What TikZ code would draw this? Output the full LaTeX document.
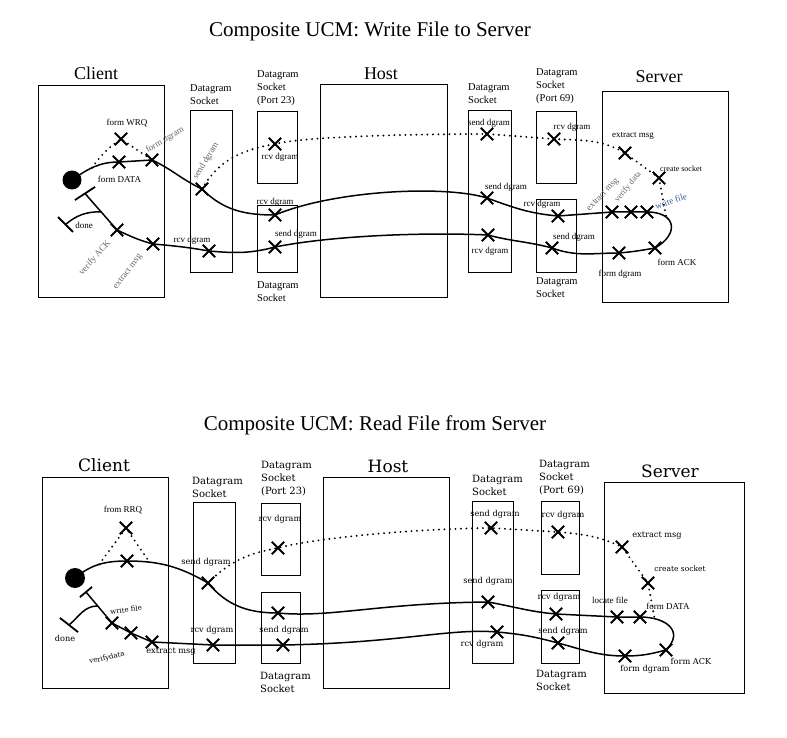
\documentclass[tikz,border=0pt]{standalone}
\usepackage{fontspec}
\setmainfont{Liberation Serif}
\newfontfamily\oldmac{DejaVu Serif}
\usetikzlibrary{shapes.misc}
\usetikzlibrary{positioning}
\definecolor{notegray}{RGB}{100,100,112}
\definecolor{noteblue}{RGB}{60,90,150}
\tikzstyle{ucmbox} = [rectangle, draw=black, line width=1.4pt, anchor=north west, inner sep=0]
\tikzstyle{resp} = [cross out, draw=black, line width=1.8pt, minimum size=10.5pt, inner sep=0]
\tikzstyle{startpt} = [circle, fill=black, minimum size=19pt, inner sep=0]
\tikzstyle{endbar} = [rectangle, fill=black, minimum height=1.8pt, inner sep=0]
\tikzstyle{ucmpath} = [line width=1.5pt, line join=round]
\tikzstyle{dotpath} = [line width=2.1pt, line cap=round, dash pattern=on 0pt off 5.5pt]
\tikzstyle{heading} = [font=\fontsize{21}{24}\selectfont, inner sep=0]
\tikzstyle{compname} = [font=\fontsize{18}{20}\selectfont, inner sep=0]
\tikzstyle{socklbl} = [font=\fontsize{10.5}{13}\selectfont, align=left, anchor=west, inner sep=0]
\tikzstyle{resplbl} = [font=\fontsize{9}{10}\selectfont, inner sep=0]
\tikzstyle{notelbl} = [font=\fontsize{9}{10}\selectfont, inner sep=0, text=notegray]
\tikzstyle{oldcomp} = [font=\oldmac\fontsize{17}{19}\selectfont, inner sep=0]
\tikzstyle{oldsock} = [font=\oldmac\fontsize{10}{13}\selectfont, align=left, anchor=west, inner sep=0]
\tikzstyle{oldlbl} = [font=\oldmac\fontsize{8.2}{9}\selectfont, inner sep=0]

\begin{document}
\begin{tikzpicture}[x=1pt,y=1pt]
\useasboundingbox (0,0) rectangle (787,-738);

\node[heading] (t-write) at (370,-31) {Composite UCM: Write File to Server};
\node[heading] (t-read) at (375,-425) {Composite UCM: Read File from Server};

%% write file to server
\node[ucmbox, minimum width=126pt, minimum height=212pt] (client-w) at (38,-85) {};
\node[ucmbox, minimum width=42pt, minimum height=162pt] (sock1-w) at (190,-110) {};
\node[ucmbox, minimum width=40pt, minimum height=72pt] (port23-w) at (257,-111) {};
\node[ucmbox, minimum width=40pt, minimum height=67pt] (sock2-w) at (257,-205) {};
\node[ucmbox, minimum width=127pt, minimum height=213pt] (host-w) at (320,-84) {};
\node[ucmbox, minimum width=43pt, minimum height=162pt] (sock3-w) at (468,-110) {};
\node[ucmbox, minimum width=40pt, minimum height=72pt] (port69-w) at (536,-111) {};
\node[ucmbox, minimum width=40pt, minimum height=73pt] (sock4-w) at (536,-199) {};
\node[ucmbox, minimum width=126pt, minimum height=211pt] (server-w) at (602,-91) {};

\node[compname] (client-w-l) at (96,-73) {Client};
\node[compname] (host-w-l) at (381,-74) {Host};
\node[compname] (server-w-l) at (659,-77) {Server};
\node[socklbl] (sock1-w-l) at (190,-94.5) {Datagram\\Socket};
\node[socklbl] (port23-w-l) at (257,-88) {Datagram\\Socket\\(Port 23)};
\node[socklbl] (sock2-w-l) at (257,-291.5) {Datagram\\Socket};
\node[socklbl] (sock3-w-l) at (468,-94) {Datagram\\Socket};
\node[socklbl] (port69-w-l) at (536,-86.5) {Datagram\\Socket\\(Port 69)};
\node[socklbl] (sock4-w-l) at (536,-288) {Datagram\\Socket};

\node[startpt] (w-start) at (72,-180) {};
\node[endbar, minimum width=24pt, rotate=33] (w-bar) at (85,-193.5) {};
\node[endbar, minimum width=21pt, rotate=-45] (w-done) at (65.5,-224.5) {};
\node[resp] (w-wrq) at (121,-139) {};
\node[resp] (w-fdata) at (119,-162) {};
\node[resp] (w-fdgram) at (152,-160) {};
\node[resp] (w-send1) at (202,-189) {};
\node[resp] (w-rcv23) at (275,-144) {};
\node[resp] (w-rcv2) at (275,-215) {};
\node[resp] (w-send2) at (275,-247) {};
\node[resp] (w-rcv1) at (209,-251) {};
\node[resp] (w-extract) at (153,-244) {};
\node[resp] (w-verify) at (117,-230) {};
\node[resp] (w-send3) at (487,-134) {};
\node[resp] (w-rcv69) at (554,-139) {};
\node[resp] (w-send4) at (487,-198) {};
\node[resp] (w-rcv4) at (558,-216) {};
\node[resp] (w-rcv3) at (488,-235) {};
\node[resp] (w-send5) at (552,-248) {};
\node[resp] (w-sxmsg) at (625,-153) {};
\node[resp] (w-socket) at (659,-178) {};
\node[resp] (w-sxmsg2) at (612,-212) {};
\node[resp] (w-vdata) at (631,-212) {};
\node[resp] (w-wfile) at (647,-212) {};
\node[resp] (w-fack) at (655,-248) {};
\node[resp] (w-sfdgram) at (619,-253) {};

\node[resplbl] (w-wrq-l) at (127,-123) {form WRQ};
\node[resplbl] (w-fdata-l) at (119.5,-179) {form DATA};
\node[notelbl, rotate=31] (w-fdgram-l) at (165,-140) {form dgram};
\node[notelbl, rotate=59] (w-send1-l) at (206,-161) {send dgram};
\node[resplbl] (w-rcv23-l) at (280,-157) {rcv dgram};
\node[resplbl] (w-rcv2-l) at (275,-202) {rcv dgram};
\node[resplbl] (w-send2-l) at (296,-234) {send dgram};
\node[resplbl] (w-rcv1-l) at (192,-240) {rcv dgram};
\node[notelbl, rotate=53] (w-extract-l) at (128,-272) {extract msg};
\node[notelbl, rotate=48] (w-verify-l) at (95,-258) {verify ACK};
\node[resplbl] (w-done-l) at (84,-225) {done};
\node[resplbl] (w-send3-l) at (489,-123) {send dgram};
\node[resplbl] (w-rcv69-l) at (572,-127) {rcv dgram};
\node[resplbl] (w-send4-l) at (506,-187) {send dgram};
\node[resplbl] (w-rcv4-l) at (542,-204) {rcv dgram};
\node[resplbl] (w-rcv3-l) at (490,-251) {rcv dgram};
\node[resplbl] (w-send5-l) at (574,-237) {send dgram};
\node[resplbl] (w-sxmsg-l) at (633,-136) {extract msg};
\node[resplbl, font=\fontsize{8}{9}\selectfont] (w-socket-l) at (681,-169) {create socket};
\node[notelbl, rotate=46] (w-sxmsg2-l) at (603,-195) {extract msg};
\node[notelbl, rotate=51, font=\fontsize{8.5}{9}\selectfont] (w-vdata-l) at (628,-187) {verify data};
\node[notelbl, rotate=18, text=noteblue] (w-wfile-l) at (671,-201) {write file};
\node[resplbl] (w-fack-l) at (677,-262) {form ACK};
\node[resplbl] (w-sfdgram-l) at (620,-274) {form dgram};

\draw[ucmpath] (w-start.center) to[out=35,in=180] coordinate[pos=0.45] (w-fork) (w-fdata.center)
  -- (w-fdgram.center)
  to[out=-25,in=155] (w-send1.center)
  to[out=-45,in=180] (w-rcv2.center)
  .. controls (335,-190) and (445,-185) .. (w-send4.center)
  to[out=-20,in=175] (w-rcv4.center)
  -- (w-sxmsg2.center) -- (w-vdata.center) -- (w-wfile.center)
  to[out=0,in=30,looseness=2] coordinate[pos=0.3] (w-join) (w-fack.center)
  to[out=190,in=5] (w-sfdgram.center)
  to[out=180,in=-20] (w-send5.center)
  to[out=165,in=-15] (w-rcv3.center)
  .. controls (420,-232) and (330,-236) .. (w-send2.center)
  to[out=195,in=-5] (w-rcv1.center)
  to[out=170,in=-5] (w-extract.center)
  to[out=165,in=-25] (w-verify.center)
  -- coordinate[pos=0.5] (w-fork2) (w-bar.center);
\draw[ucmpath] (w-fork2) to[out=180,in=40] (w-done.center);
\draw[dotpath] (w-fork) to[bend left=10] (w-wrq.center) -- (w-fdgram.center);
\draw[dotpath] (w-send1.center) to[out=60,in=190] (w-rcv23.center)
  .. controls (305,-136) and (427,-134) .. (w-send3.center)
  -- (w-rcv69.center)
  to[out=-3,in=150] (w-sxmsg.center)
  -- (w-socket.center)
  -- (w-join);

%% read file from server
\node[ucmbox, minimum width=126pt, minimum height=211pt] (client-r) at (42,-477) {};
\node[ucmbox, minimum width=42pt, minimum height=161pt] (sock1-r) at (193,-502) {};
\node[ucmbox, minimum width=39pt, minimum height=72pt] (port23-r) at (261,-503) {};
\node[ucmbox, minimum width=39pt, minimum height=71pt] (sock2-r) at (261,-592) {};
\node[ucmbox, minimum width=126pt, minimum height=211pt] (host-r) at (323,-477) {};
\node[ucmbox, minimum width=41pt, minimum height=162pt] (sock3-r) at (472,-501) {};
\node[ucmbox, minimum width=38pt, minimum height=73pt] (port69-r) at (541,-501) {};
\node[ucmbox, minimum width=38pt, minimum height=73pt] (sock4-r) at (541,-590) {};
\node[ucmbox, minimum width=140pt, minimum height=211pt] (server-r) at (604,-482) {};

\node[oldcomp] (client-r-l) at (104,-465) {Client};
\node[oldcomp] (host-r-l) at (388,-466) {Host};
\node[oldcomp] (server-r-l) at (670,-471) {Server};
\node[oldsock] (sock1-r-l) at (192,-487) {Datagram\\Socket};
\node[oldsock] (port23-r-l) at (261,-479) {Datagram\\Socket\\(Port 23)};
\node[oldsock] (sock2-r-l) at (260,-682.5) {Datagram\\Socket};
\node[oldsock] (sock3-r-l) at (472,-485.5) {Datagram\\Socket};
\node[oldsock] (port69-r-l) at (539,-477.5) {Datagram\\Socket\\(Port 69)};
\node[oldsock] (sock4-r-l) at (536,-680) {Datagram\\Socket};

\node[startpt, minimum size=20pt] (r-start) at (75,-578) {};
\node[endbar, minimum width=16pt, rotate=40] (r-bar) at (86,-592) {};
\node[endbar, minimum width=23pt, rotate=-38] (r-done) at (69,-625) {};
\node[resp] (r-rrq) at (126,-528) {};
\node[resp] (r-fdata) at (127,-561) {};
\node[resp] (r-send1) at (208,-583) {};
\node[resp] (r-rcv23) at (278,-548) {};
\node[resp] (r-rcv2) at (278,-613) {};
\node[resp] (r-send2) at (283,-645) {};
\node[resp] (r-rcv1) at (213,-645) {};
\node[resp] (r-extract) at (152,-642) {};
\node[resp] (r-verify) at (131,-633) {};
\node[resp] (r-write) at (112,-623) {};
\node[resp] (r-send3) at (491,-528) {};
\node[resp] (r-rcv69) at (558,-532) {};
\node[resp] (r-sxmsg) at (622,-547) {};
\node[resp] (r-socket) at (648,-583) {};
\node[resp] (r-send4) at (488,-602) {};
\node[resp] (r-rcv4) at (556,-614) {};
\node[resp] (r-locate) at (617,-617) {};
\node[resp] (r-sfdata) at (640,-617) {};
\node[resp] (r-fack) at (666,-650) {};
\node[resp] (r-sfdgram) at (625,-656) {};
\node[resp] (r-send5) at (558,-643) {};
\node[resp] (r-rcv3) at (497,-632) {};

\node[resplbl] (r-rrq-l) at (123,-510) {from RRQ};
\node[oldlbl] (r-send1-l) at (206,-562) {send dgram};
\node[oldlbl] (r-rcv23-l) at (280,-519) {rcv dgram};
\node[oldlbl] (r-send2-l) at (284,-630) {send dgram};
\node[oldlbl] (r-rcv1-l) at (212,-630) {rcv dgram};
\node[oldlbl] (r-extract-l) at (171,-652) {extract msg};
\node[oldlbl, rotate=8, font=\oldmac\fontsize{7}{8}\selectfont] (r-write-l) at (126,-610) {write file};
\node[oldlbl, rotate=13, font=\oldmac\fontsize{7}{8}\selectfont] (r-verify-l) at (107,-658) {verifydata};
\node[oldlbl] (r-done-l) at (65,-638) {done};
\node[oldlbl] (r-send3-l) at (495,-514) {send dgram};
\node[oldlbl] (r-rcv69-l) at (563,-515) {rcv dgram};
\node[oldlbl] (r-sxmsg-l) at (657,-536) {extract msg};
\node[oldlbl, font=\oldmac\fontsize{7.5}{8}\selectfont] (r-socket-l) at (680,-569) {create socket};
\node[oldlbl] (r-send4-l) at (488,-581) {send dgram};
\node[oldlbl] (r-rcv4-l) at (559,-597) {rcv dgram};
\node[resplbl] (r-locate-l) at (610,-600) {locate file};
\node[resplbl] (r-sfdata-l) at (668,-606) {form DATA};
\node[oldlbl] (r-fack-l) at (691,-661) {form ACK};
\node[oldlbl] (r-sfdgram-l) at (645,-669) {form dgram};
\node[oldlbl] (r-send5-l) at (563,-631) {send dgram};
\node[oldlbl] (r-rcv3-l) at (482,-644) {rcv dgram};

\draw[ucmpath] (r-start.center) to[out=40,in=180] coordinate[pos=0.5] (r-fork) (r-fdata.center)
  to[out=0,in=150] coordinate[pos=0.25] (r-join) (r-send1.center)
  to[out=-50,in=180] (r-rcv2.center)
  .. controls (330,-618) and (380,-603) .. (r-send4.center)
  to[out=-10,in=175] (r-rcv4.center)
  -- (r-locate.center) -- (r-sfdata.center)
  to[out=0,in=45,looseness=1.6] coordinate[pos=0.2] (r-join2) (r-fack.center)
  to[out=195,in=0] (r-sfdgram.center)
  to[out=180,in=-15] (r-send5.center)
  to[out=165,in=-5] (r-rcv3.center)
  .. controls (450,-628) and (400,-643) .. (r-send2.center)
  -- (r-rcv1.center)
  -- (r-extract.center) -- (r-verify.center) -- (r-write.center)
  -- coordinate[pos=0.55] (r-fork2) (r-bar.center);
\draw[ucmpath] (r-fork2) to[out=180,in=40] (r-done.center);
\draw[dotpath] (r-fork) -- (r-rrq.center) -- (r-join);
\draw[dotpath] (r-send1.center) to[out=45,in=190] (r-rcv23.center)
  .. controls (305,-540) and (400,-529) .. (r-send3.center)
  -- (r-rcv69.center)
  to[out=-5,in=155] (r-sxmsg.center)
  -- (r-socket.center)
  -- (r-join2);
\end{tikzpicture}
\end{document}
